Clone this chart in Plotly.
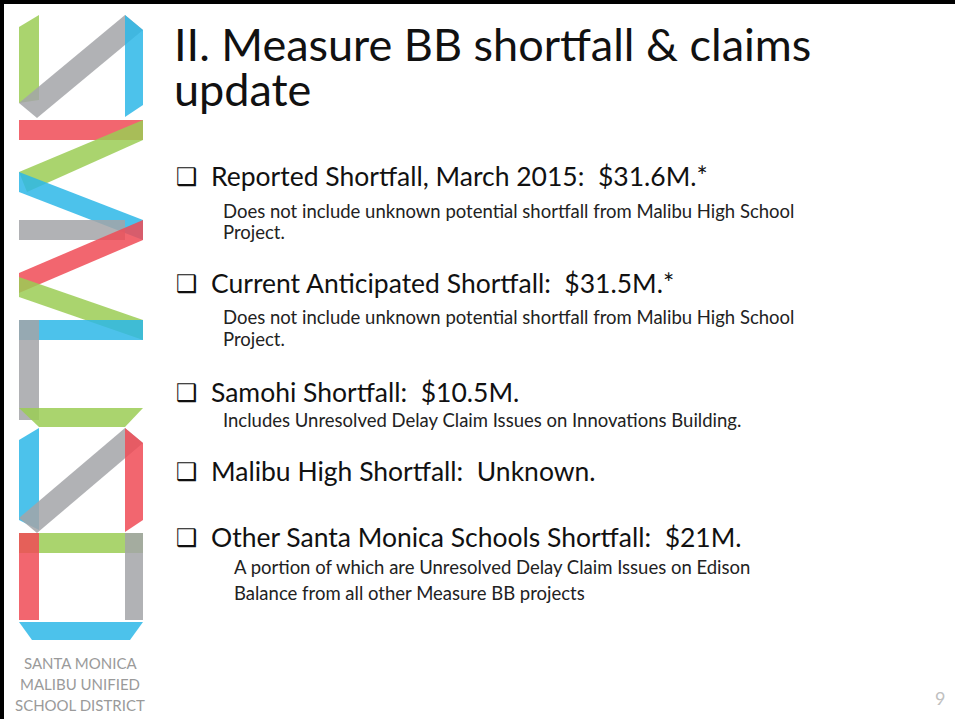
import plotly.graph_objects as go

# ---------------- content ----------------
title_lines = ["II. Measure BB shortfall & claims", "update"]
bullets = [
    "Reported Shortfall, March 2015:  $31.6M.*",
    "Current Anticipated Shortfall:  $31.5M.*",
    "Samohi Shortfall:  $10.5M.",
    "Malibu High Shortfall:  Unknown.",
    "Other Santa Monica Schools Shortfall:  $21M.",
]
sub_lines = [
    ["Does not include unknown potential shortfall from Malibu High School", "Project."],
    ["Does not include unknown potential shortfall from Malibu High School", "Project."],
    ["Includes Unresolved Delay Claim Issues on Innovations Building."],
    [],
    ["A portion of which are Unresolved Delay Claim Issues on Edison",
     "Balance from all other Measure BB projects"],
]
district_lines = ["SANTA MONICA", "MALIBU UNIFIED", "SCHOOL DISTRICT"]
page_number = "9"

# ---------------- layout positions (pixels) ----------------
W, H = 955, 719
title_y = [44, 89]
title_x = 172
bullet_y = [176, 283, 392, 471, 537]
sub_y = [[211, 232], [317, 339], [420], [], [567, 593]]
box_x = 174
bullet_x = 209
sub_x = [221, 221, 221, None, 232]
district_y = [663, 684, 705]

GREEN = "rgba(155,205,85,0.85)"
GRAY = "rgba(163,164,168,0.85)"
BLUE = "rgba(45,183,232,0.85)"
RED = "rgba(240,75,86,0.85)"

logo_polys = [
    (GREEN, [(19, 27), (39, 15), (39, 100), (19, 103)]),
    (GRAY, [(19, 103), (125, 15), (143, 30), (37, 118)]),
    (BLUE, [(125, 15), (143, 30), (143, 105), (125, 117)]),
    (RED, [(19, 120), (143, 120), (143, 140), (19, 140)]),
    (GREEN, [(143, 120), (143, 140), (27, 192), (19, 172)]),
    (BLUE, [(19, 172), (143, 220), (143, 240), (19, 192)]),
    (GRAY, [(19, 220), (125, 220), (125, 240), (19, 240)]),
    (RED, [(143, 220), (143, 240), (19, 293), (19, 273)]),
    (GREEN, [(19, 277), (143, 320), (143, 340), (19, 297)]),
    (BLUE, [(19, 320), (143, 320), (143, 340), (19, 340)]),
    (GRAY, [(19, 320), (39, 320), (39, 420), (19, 420)]),
    (GREEN, [(19, 408), (143, 408), (125, 427), (39, 427)]),
    (BLUE, [(19, 440), (39, 428), (39, 530), (19, 520)]),
    (GRAY, [(19, 518), (125, 428), (143, 443), (37, 533)]),
    (RED, [(125, 428), (143, 443), (143, 520), (125, 532)]),
    (GREEN, [(19, 533), (143, 533), (143, 553), (19, 553)]),
    (RED, [(19, 533), (39, 533), (39, 620), (19, 620)]),
    (GRAY, [(125, 533), (143, 533), (143, 620), (125, 620)]),
    (BLUE, [(19, 622), (143, 622), (130, 640), (32, 640)]),
]

FONT = "Lato, 'Open Sans', sans-serif"

fig = go.Figure()
fig.add_trace(go.Scatter(x=[0, W], y=[0, H], mode="markers",
                         marker=dict(opacity=0), hoverinfo="skip", showlegend=False))

shapes = []
# slide border (top and left)
shapes.append(dict(type="rect", x0=0, x1=W, y0=0, y1=4, fillcolor="black", line_width=0))
shapes.append(dict(type="rect", x0=0, x1=4, y0=0, y1=H, fillcolor="black", line_width=0))
for color, pts in logo_polys:
    path = "M " + " L ".join(f"{x},{y}" for x, y in pts) + " Z"
    shapes.append(dict(type="path", path=path, fillcolor=color, line_width=0, layer="above"))

ann = []
for t, y in zip(title_lines, title_y):
    ann.append(dict(x=title_x, y=y, text=t, xanchor="left", yanchor="middle",
                    font=dict(family=FONT, size=45, color="#111111")))
for i, (t, y) in enumerate(zip(bullets, bullet_y)):
    ann.append(dict(x=box_x, y=y + 1, text="\u2751", xanchor="left", yanchor="middle",
                    font=dict(family="DejaVu Sans", size=24, color="#111111")))
    ann.append(dict(x=bullet_x, y=y, text=t, xanchor="left", yanchor="middle",
                    font=dict(family=FONT, size=26.5, color="#111111")))
    for s, sy in zip(sub_lines[i], sub_y[i]):
        ann.append(dict(x=sub_x[i], y=sy, text=s, xanchor="left", yanchor="middle",
                        font=dict(family=FONT, size=18.5, color="#222222")))
for t, y in zip(district_lines, district_y):
    ann.append(dict(x=80, y=y, text=t, xanchor="center", yanchor="middle",
                    font=dict(family=FONT, size=15, color="#9a9a9a")))
ann.append(dict(x=940, y=698, text=page_number, xanchor="center", yanchor="middle",
                font=dict(family=FONT, size=18, color="#c0c0c0")))
for a in ann:
    a.update(xref="x", yref="y", showarrow=False)

fig.update_layout(
    autosize=True,
    margin=dict(l=0, r=0, t=0, b=0),
    paper_bgcolor="white", plot_bgcolor="white",
    xaxis=dict(range=[0, W], visible=False, fixedrange=True),
    yaxis=dict(range=[H, 0], visible=False, fixedrange=True),
    shapes=shapes, annotations=ann, showlegend=False,
)

page_css = ("html,body{margin:0;padding:0;overflow:hidden;scrollbar-width:none;"
            "width:100%;height:100%;}::-webkit-scrollbar{display:none;width:0;height:0;}")
fig.write_html(
    "out.html",
    config={"displayModeBar": False, "responsive": False},
    default_width=f"{W}px",
    default_height=f"{H}px;position:fixed;top:0px;left:0px",
    post_script=("var s=document.createElement('style');s.textContent='" + page_css + "';"
                 "document.head.appendChild(s);window.scrollTo(0,0);"),
)
